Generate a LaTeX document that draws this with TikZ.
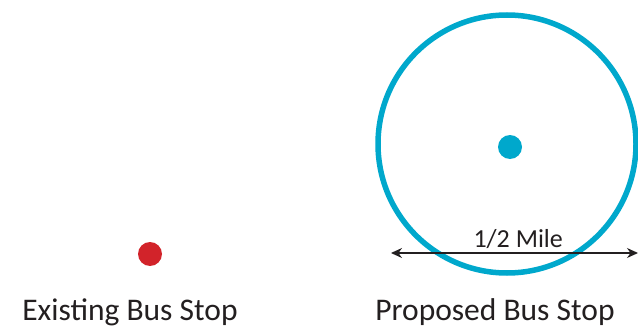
\documentclass[tikz,border=0pt]{standalone}
\usepackage{fontspec}
\setmainfont{Carlito}
\usetikzlibrary{arrows.meta, positioning}
\definecolor{stopred}{HTML}{D2232A}
\definecolor{stopblue}{HTML}{00A8CC}
\definecolor{textgray}{HTML}{231F20}

\begin{document}
\begin{tikzpicture}[x=1pt, y=-1pt,
    stopdot/.style={circle, inner sep=0pt, minimum size=24pt},
    caption/.style={font=\fontsize{31.5}{34}\selectfont, text=textgray, anchor=base}]
  \useasboundingbox (0,0) rectangle (638,332);
  % stops
  \node[stopdot, fill=stopred] (existing) at (150,254) {};
  \node[stopdot, fill=stopblue] (proposed) at (510,147) {};
  \node[circle, draw=stopblue, line width=5.5pt, inner sep=0pt, minimum size=258pt] (walk) at (507,144) {};
  % half mile span
  \coordinate (spanL) at (391,253);
  \coordinate (spanR) at (638,253);
  \draw[textgray, line width=1.3pt, {Stealth[length=11pt,width=10pt]}-{Stealth[length=11pt,width=10pt]}] (spanL) -- (spanR)
    node[pos=0.515, above=0pt, font=\fontsize{26}{28}\selectfont, text=textgray] (miles) {1/2 Mile};
  % captions
  \node[caption] (existingtxt) at (130,320) {Existing Bus Stop};
  \node[caption] (proposedtxt) at (495,320) {Proposed Bus Stop};
\end{tikzpicture}
\end{document}
